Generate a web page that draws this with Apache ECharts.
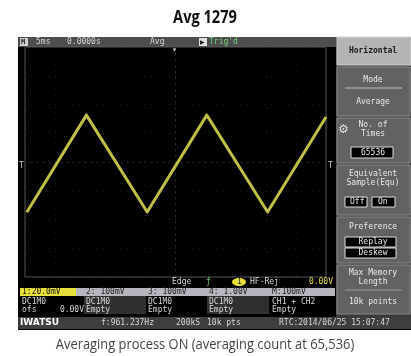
<!DOCTYPE html>
<html>
<head>
<meta charset="utf-8">
<script src="https://cdn.jsdelivr.net/npm/echarts@6/dist/echarts.min.js"></script>
<style>
  html, body { margin: 0; padding: 0; background: #fff; }
  #chart { width: 411px; height: 356px; }
</style>
</head>
<body>
<div id="chart"></div>
<script>
// waveform: time (ms, 5 ms/div) and CH1 (mV, 20 mV/div)
const timeMs = [-24.7, -14.8, -4.7, 5.2, 15.3, 25];
const ch1mV = [-35, 32.6, -34.8, 32.6, -34.8, 31.3];

// on-screen labels
const chLabels = ['1:20.0mV', '2: 100mV', '3: 100mV', '4: 1.00V', 'M:100mV'];
const couplingLabels = ['DC1M0', 'DC1M0', 'DC1M0', 'DC1M0', 'CH1 + CH2'];
const offsetLabels = ['', 'Empty', 'Empty', 'Empty', 'Empty'];
const colX = [22, 86, 148, 209, 272];

const chart = echarts.init(document.getElementById('chart'));

const mono = '8px "DejaVu Sans Mono"';
const txt = (text, x, y, fill, opts) => Object.assign({
  type: 'text', z: 20,
  style: { text: text, x: x, y: y, fill: fill || '#d6d6d6', font: mono, textVerticalAlign: 'middle', textAlign: 'left' }
}, opts || {});
const rect = (x, y, w, h, fill, stroke, z) => ({
  type: 'rect', z: z == null ? -5 : z,
  shape: { x: x, y: y, width: w, height: h },
  style: { fill: fill, stroke: stroke || null, lineWidth: 1 }
});
const ctext = (text, y, fill, font) => {
  const t = txt(text, 373, y, fill || '#e8e8e8');
  t.style.textAlign = 'center';
  if (font) t.style.font = font;
  return t;
};

const elements = [
  // scope frame
  rect(18, 37, 393, 293, '#000', null, -10),
  rect(18, 37, 318, 10, '#4e4e4e'),
  // right menu column
  rect(336, 37, 75, 280, '#3a3a3a'),
  rect(337, 37, 74, 28, '#b4b4b4', '#d0d0d0'),
  rect(337, 67, 73, 49, '#626262', '#8a8a8a'),
  rect(337, 118, 73, 45, '#626262', '#8a8a8a'),
  rect(337, 165, 73, 50, '#626262', '#8a8a8a'),
  rect(337, 217, 73, 46, '#626262', '#8a8a8a'),
  rect(337, 265, 73, 49, '#626262', '#8a8a8a'),
  { type: 'line', z: 1, shape: { x1: 345, y1: 88, x2: 402, y2: 88 }, style: { stroke: '#bbb', lineWidth: 1 } },
  { type: 'line', z: 1, shape: { x1: 345, y1: 290, x2: 402, y2: 290 }, style: { stroke: '#999', lineWidth: 1 } },
  rect(351, 147, 42, 11, '#000', '#ddd', 1),
  rect(345, 197, 22, 10, '#000', '#ddd', 1),
  rect(372, 197, 23, 10, '#000', '#ddd', 1),
  rect(345, 237, 51, 10, '#000', '#ddd', 1),
  rect(345, 248, 51, 10, '#000', '#ddd', 1),
  // channel info rows
  rect(20, 288, 315, 8, '#b6b6be'),
  rect(20, 288, 56, 8, '#e6df3a', null, 1),
  rect(84, 296, 62, 18, '#303030'),
  rect(207, 296, 62, 18, '#303030'),
  // bottom status bar
  rect(18, 317, 393, 12, '#3e3e3e'),
  // top bar texts
  rect(20, 38, 8, 8, '#cfcfcf', null, 1),
  txt('M', 21, 42, '#222', { style: { text: 'M', x: 21, y: 42, fill: '#222', font: 'bold 7px "DejaVu Sans Mono"', textVerticalAlign: 'middle' } }),
  txt('5ms', 36, 42),
  txt('0.0000s', 67, 42),
  txt('Avg', 150, 42),
  rect(199, 38, 8, 8, '#e0e0e0', null, 1),
  txt('▶', 200, 42, '#222', { style: { text: '▶', x: 200, y: 42, fill: '#222', font: '6px "DejaVu Sans"', textVerticalAlign: 'middle' } }),
  txt("Trig'd", 209, 42, '#6fd27a'),
  txt('▾', 172, 50, '#ddd'),
  txt('T', 19, 166, '#ccc'),
  txt('T', 328, 166, '#ccc'),
  // right menu texts
  ctext('Horizontal', 51, '#1a1a1a', 'bold 8px "DejaVu Sans Mono"'),
  ctext('Mode', 80),
  ctext('Average', 102),
  txt('⚙', 338, 130, '#ddd', { style: { text: '⚙', x: 338, y: 130, fill: '#ddd', font: '12px "DejaVu Sans"', textVerticalAlign: 'middle' } }),
  ctext('No. of', 125),
  ctext('Times', 134),
  ctext('65536', 153),
  ctext('Equivalent', 174),
  ctext('Sample(Equ)', 183),
  txt('Off', 350, 202, '#e8e8e8'),
  txt('On', 378, 202, '#e8e8e8'),
  ctext('Preference', 227),
  ctext('Replay', 242),
  ctext('Deskew', 253),
  ctext('Max Memory', 273),
  ctext('Length', 282),
  ctext('10k points', 302),
  // trigger row
  txt('Edge', 172, 282),
  txt('ƒ', 206, 282, '#6fd27a'),
  { type: 'ellipse', z: 15, shape: { cx: 239, cy: 282, rx: 7, ry: 4 }, style: { fill: '#e6df3a' } },
  txt('1', 237, 282, '#111'),
  txt('HF-Rej', 250, 282),
  txt('0.00V', 333, 282, '#e6df3a', { style: { text: '0.00V', x: 333, y: 282, fill: '#e6df3a', font: mono, textVerticalAlign: 'middle', textAlign: 'right' } }),
  txt('0.00V', 84, 310, '#d6d6d6', { style: { text: '0.00V', x: 84, y: 310, fill: '#d6d6d6', font: mono, textVerticalAlign: 'middle', textAlign: 'right' } }),
  txt('ofs', 22, 310),
  // status bar
  txt('IWATSU', 20, 323, '#fff', { style: { text: 'IWATSU', x: 20, y: 323, fill: '#fff', font: 'bold 9px "DejaVu Sans"', textVerticalAlign: 'middle' } }),
  txt('f:961.237Hz', 101, 323),
  txt('200kS', 176, 323),
  txt('10k pts', 207, 323),
  txt('RTC:2014/06/25 15:07:47', 279, 323),
  // title and caption
  { type: 'text', z: 20, x: 205, y: 18, scaleX: 0.86,
    style: { text: 'Avg 1279', x: 0, y: 0, fill: '#111', font: 'bold 17px "Open Sans"', textAlign: 'center', textVerticalAlign: 'middle' } },
  { type: 'text', z: 20, x: 205, y: 345, scaleX: 0.86,
    style: { text: 'Averaging process ON (averaging count at 65,536)', x: 0, y: 0, fill: '#444', font: '15px "Open Sans"', textAlign: 'center', textVerticalAlign: 'middle' } }
];

chLabels.forEach((s, i) => elements.push(txt(s, colX[i], 292, i === 0 ? '#111' : '#1e1e1e')));
couplingLabels.forEach((s, i) => elements.push(txt(s, colX[i], 302)));
offsetLabels.forEach((s, i) => { if (s) elements.push(txt(s, colX[i], 310)); });

const option = {
  backgroundColor: '#fff',
  animation: false,
  grid: {
    left: 25, top: 47, width: 301, height: 230,
    show: true, backgroundColor: '#000', borderColor: '#5a5a5a', borderWidth: 1
  },
  xAxis: {
    type: 'value', min: -25, max: 25, interval: 5,
    axisLabel: { show: false }, axisTick: { show: false },
    axisLine: { show: true, onZero: true, lineStyle: { color: '#2e2e2e', type: [1, 5] } },
    splitLine: { show: true, lineStyle: { color: '#1c1c1c', type: [1, 5] } }
  },
  yAxis: {
    type: 'value', min: -80, max: 80, interval: 20,
    axisLabel: { show: false }, axisTick: { show: false },
    axisLine: { show: true, onZero: true, lineStyle: { color: '#2e2e2e', type: [1, 5] } },
    splitLine: { show: true, lineStyle: { color: '#1c1c1c', type: [1, 5] } }
  },
  series: [{
    type: 'line',
    data: timeMs.map((t, i) => [t, ch1mV[i]]),
    showSymbol: false,
    lineStyle: { color: '#bfbf48', width: 3, join: 'round' },
    z: 5
  }],
  graphic: { elements: elements }
};

chart.setOption(option);
</script>
</body>
</html>
